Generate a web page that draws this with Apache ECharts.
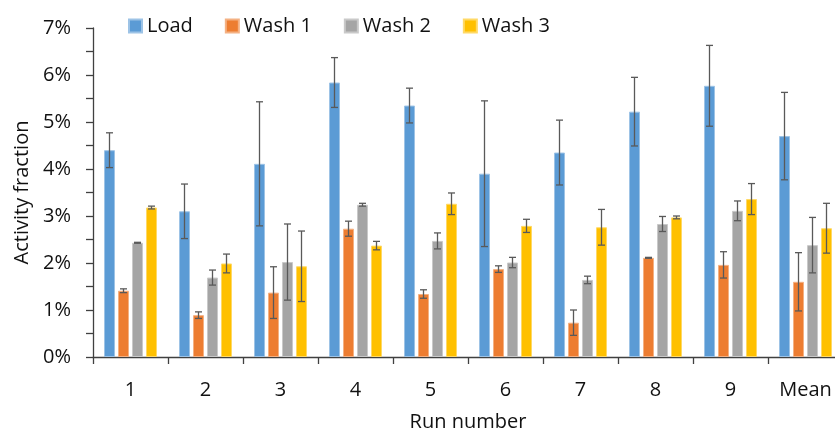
<!DOCTYPE html>
<html>
<head>
<meta charset="utf-8">
<script src="https://cdn.jsdelivr.net/npm/echarts@6/dist/echarts.min.js"></script>
<style>html,body{margin:0;padding:0;background:#fff}#c{width:835px;height:431px}</style>
</head>
<body>
<div id="c"></div>
<script>
const categories = ['1','2','3','4','5','6','7','8','9','Mean'];
const seriesNames = ['Load','Wash 1','Wash 2','Wash 3'];
const load  = [4.40, 3.10, 4.11, 5.84, 5.35, 3.90, 4.35, 5.22, 5.77, 4.70];
const wash1 = [1.41, 0.89, 1.37, 2.73, 1.34, 1.87, 0.73, 2.11, 1.96, 1.60];
const wash2 = [2.43, 1.69, 2.02, 3.24, 2.47, 2.01, 1.64, 2.83, 3.11, 2.38];
const wash3 = [3.18, 1.99, 1.93, 2.37, 3.26, 2.79, 2.76, 2.97, 3.36, 2.74];
const loadErr  = [0.37, 0.58, 1.32, 0.53, 0.37, 1.55, 0.69, 0.73, 0.86, 0.93];
const wash1Err = [0.04, 0.07, 0.55, 0.16, 0.09, 0.07, 0.27, 0.01, 0.28, 0.62];
const wash2Err = [0.01, 0.16, 0.81, 0.03, 0.17, 0.11, 0.08, 0.16, 0.21, 0.59];
const wash3Err = [0.03, 0.20, 0.75, 0.09, 0.23, 0.14, 0.38, 0.03, 0.33, 0.53];
const yTicks = [0,1,2,3,4,5,6,7];

const values = [load, wash1, wash2, wash3];
const errs = [loadErr, wash1Err, wash2Err, wash3Err];
const colors = ['#5B9BD5','#ED7D31','#A5A5A5','#FFC000'];
const borders = ['#9DC3E6','#F4B183','#C9C9C9','#FFD966'];
const BW = 11, GAP = 3;
const FONT = '"Open Sans"';
const FS = 20;
const TXT = '#111';

const series = [];
values.forEach((vals, i) => {
  series.push({
    name: seriesNames[i], type: 'bar', data: vals,
    barWidth: BW, barGap: (GAP / BW * 100) + '%',
    itemStyle: { color: colors[i], borderColor: borders[i], borderWidth: 1 },
    z: 2
  });
});
values.forEach((vals, i) => {
  const offset = (i - 1.5) * (BW + GAP);
  series.push({
    type: 'custom', name: 'err' + i, z: 5, silent: true,
    data: vals.map((v, k) => [k, v - errs[i][k], v + errs[i][k]]),
    renderItem: function (params, api) {
      const lo = api.coord([api.value(0), api.value(1)]);
      const hi = api.coord([api.value(0), api.value(2)]);
      const x = lo[0] + offset;
      const cw = 3.5;
      const st = { stroke: '#595959', lineWidth: 1.3 };
      return { type: 'group', children: [
        { type: 'line', shape: { x1: x, y1: lo[1], x2: x, y2: hi[1] }, style: st },
        { type: 'line', shape: { x1: x - cw, y1: lo[1], x2: x + cw, y2: lo[1] }, style: st },
        { type: 'line', shape: { x1: x - cw, y1: hi[1], x2: x + cw, y2: hi[1] }, style: st }
      ]};
    }
  });
});

const chart = echarts.init(document.getElementById('c'), null, { renderer: 'canvas' });
chart.setOption({
  animation: false,
  textStyle: { fontFamily: FONT },
  legend: {
    data: seriesNames, left: 128, top: 16, padding: 0, itemWidth: 13, itemHeight: 13, itemGap: 32,
    icon: 'rect',
    textStyle: { fontFamily: FONT, fontSize: FS, color: TXT }
  },
  grid: { left: 93, right: -8, top: 28, bottom: 74, containLabel: false, outerBoundsMode: 'none' },
  xAxis: {
    type: 'category', data: categories,
    name: 'Run number', nameLocation: 'middle', nameGap: 55,
    nameTextStyle: { fontFamily: FONT, fontSize: FS, color: TXT },
    axisLine: { lineStyle: { color: '#404040', width: 1.3 } },
    axisTick: { show: true, length: 7, lineStyle: { color: '#404040', width: 1.3 } },
    axisLabel: { fontFamily: FONT, fontSize: FS, color: TXT, margin: 23 }
  },
  yAxis: {
    type: 'value', min: 0, max: 7, interval: 1,
    name: 'Activity fraction', nameLocation: 'middle', nameGap: 58,
    nameTextStyle: { fontFamily: FONT, fontSize: FS, color: TXT },
    axisLine: { show: true, lineStyle: { color: '#404040', width: 1.3 } },
    axisTick: { show: true, length: 7, lineStyle: { color: '#404040', width: 1.3 } },
    minorTick: { show: true, splitNumber: 2, length: 7, lineStyle: { color: '#404040', width: 1.3 } },
    splitLine: { show: false },
    minorSplitLine: { show: false },
    axisLabel: { fontFamily: FONT, fontSize: FS, color: TXT, margin: 22,
      formatter: v => (yTicks.includes(v) ? v + '%' : '') }
  },
  series: series
});
</script>
</body>
</html>
